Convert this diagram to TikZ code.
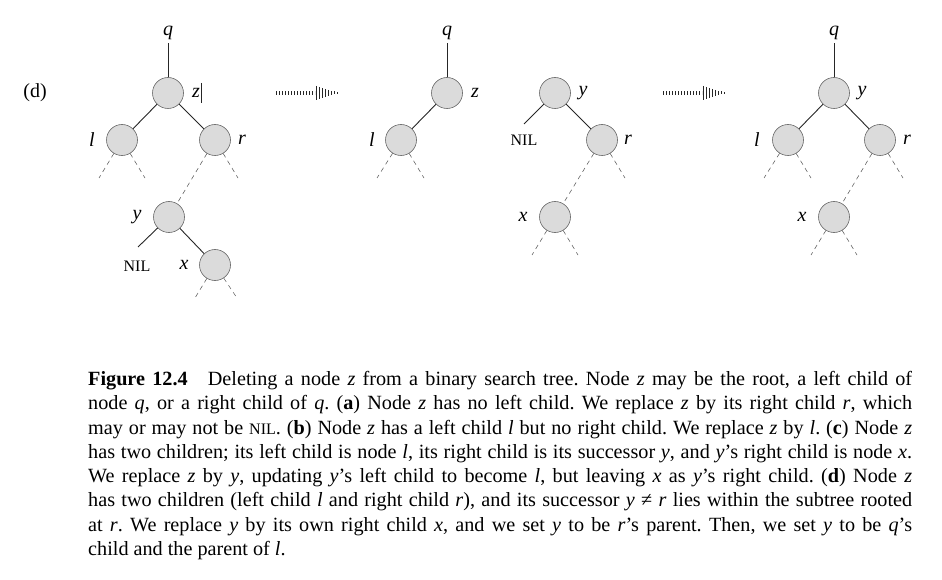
\documentclass[tikz,border=0pt]{standalone}
\usepackage{fontspec}
\setmainfont{Liberation Serif}
\usetikzlibrary{calc}
\frenchspacing
\begin{document}
\begin{tikzpicture}[x=1pt, y=-1pt, every node/.style={font=\fontsize{20}{24}\selectfont},
    nd/.style={circle, draw=black!60, fill=black!14, inner sep=0pt, minimum size=31pt, line width=0.6pt},
    lab/.style={font=\fontsize{20}{24}\selectfont\itshape},
    nil/.style={font=\fontsize{16}{18}\selectfont},
    ed/.style={draw=black!85, line width=0.9pt},
    stub/.style={draw=black!65, dash pattern=on 4.5pt off 4pt, line width=0.55pt},
    shaft/.style={draw=black!85, line width=4.5pt, dash pattern=on 1.3pt off 1.7pt}]
\useasboundingbox (0,0) rectangle (942,580);
\node (d) at (35,93) {(d)};
% first tree
\node[lab] (qa) at (168,33) {q};
\node[nd] (za) at (168,93) {};
\node[nd] (la) at (122,140) {};
\node[nd] (ra) at (215,140) {};
\node[nd] (ya) at (169,217) {};
\node[nd] (xa) at (215,265) {};
\node[lab] at (196,93) {z};
\node[lab] at (92,140) {l};
\node[lab] at (242,140) {r};
\node[lab] at (137,217) {y};
\node[lab] at (184,265) {x};
\node[nil] at (137,266) {NIL};
\coordinate (na) at (138,247);
\draw[black!85, line width=0.5pt] (201,83) -- (201,103);
% second and third tree
\node[lab] (qb) at (447,33) {q};
\node[nd] (zb) at (447,93) {};
\node[nd] (lb) at (401,140) {};
\node[lab] at (475,93) {z};
\node[lab] at (372,140) {l};
\node[nd] (yb) at (555,93) {};
\node[nd] (rb) at (602,140) {};
\node[nd] (xb) at (555,217) {};
\node[lab] at (583,93) {y};
\node[lab] at (628,140) {r};
\node[lab] at (523,217) {x};
\node[nil] at (524,140) {NIL};
\coordinate (nb) at (524,124);
% fourth tree
\node[lab] (qc) at (834,33) {q};
\node[nd] (yc) at (834,93) {};
\node[nd] (lc) at (788,140) {};
\node[nd] (rc) at (880,140) {};
\node[nd] (xc) at (834,217) {};
\node[lab] at (862,93) {y};
\node[lab] at (757,140) {l};
\node[lab] at (907,140) {r};
\node[lab] at (802,217) {x};
% solid edges
\foreach \a/\b in {qa/za,za/la,za/ra,ya/na,ya/xa,qb/zb,zb/lb,yb/nb,yb/rb,qc/yc,yc/lc,yc/rc} {
    \draw[ed] (\a)--(\b);
}
% subtrees
\foreach \a/\b in {ra/ya,rb/xb,rc/xc} {
    \draw[stub] (\a)--(\b);
}
\foreach \n/\px/\py in {la/99/178,la/145/178,ra/238/178,xa/195/298,xa/237/298,
    lb/377/178,lb/424/178,rb/625/178,xb/532/255,xb/578/255,
    lc/764/178,lc/811/178,rc/903/178,xc/811/255,xc/857/255} {
    \coordinate (e) at (\px,\py);
    \draw[stub] (\n)--(e);
}
% arrows
\coordinate (a1s) at (276,93);
\coordinate (a1e) at (315,93);
\coordinate (a2s) at (663,93);
\coordinate (a2e) at (702,93);
\foreach \s/\e in {a1s/a1e,a2s/a2e} {
    \draw[shaft] (\s)--(\e);
    \foreach \i/\h in {0/7,1/6,2/5,3/4,4/3,5/2.2,6/1.5,7/0.9} {
        \draw[black!85, line width=1.3pt] ($(\e)+(1.5+3*\i,-\h)$)--($(\e)+(1.5+3*\i,\h)$);
    }
}
% caption
\node[anchor=north west, text width=824pt, align=justify, inner sep=0pt,
    font=\fontsize{20.2}{24.3}\selectfont] (cap) at (88,371) {%
\textbf{Figure 12.4}\quad Deleting a node \textit{z} from a binary search tree. Node \textit{z} may be the root, a left child of\linebreak
node \textit{q}, or a right child of \textit{q}. (\textbf{a}) Node \textit{z} has no left child. We replace \textit{z} by its right child \textit{r}, which\linebreak
may or may not be {\fontsize{16}{18}\selectfont NIL}. (\textbf{b}) Node \textit{z} has a left child \textit{l} but no right child. We replace \textit{z} by \textit{l}. (\textbf{c}) Node \textit{z}\linebreak
has two children; its left child is node \textit{l}, its right child is its successor \textit{y}, and \textit{y}'s right child is node \textit{x}.\linebreak
We replace \textit{z} by \textit{y}, updating \textit{y}'s left child to become \textit{l}, but leaving \textit{x} as \textit{y}'s right child. (\textbf{d}) Node \textit{z}\linebreak
has two children (left child \textit{l} and right child \textit{r}), and its successor \textit{y} ≠ \textit{r} lies within the subtree rooted\linebreak
at \textit{r}. We replace \textit{y} by its own right child \textit{x}, and we set \textit{y} to be \textit{r}'s parent. Then, we set \textit{y} to be \textit{q}'s\linebreak
child and the parent of \textit{l}.};
\end{tikzpicture}
\end{document}
